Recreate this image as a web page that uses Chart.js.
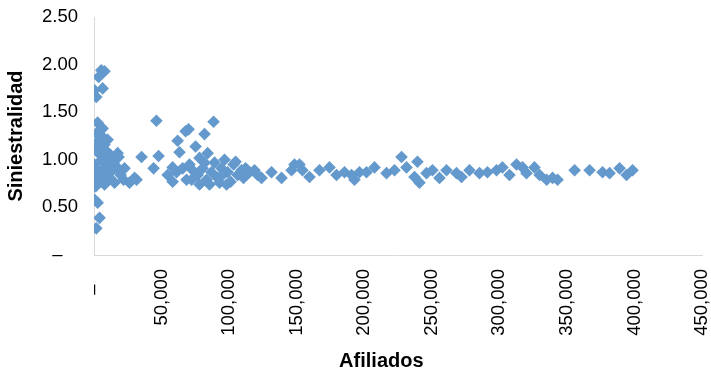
<!DOCTYPE html>
<html>
<head>
<meta charset="utf-8">
<script src="https://cdn.jsdelivr.net/npm/chart.js@4/dist/chart.umd.min.js"></script>
<style>
  html, body { margin: 0; padding: 0; background: #fff; }
  #c { display: block; }
</style>
</head>
<body>
<canvas id="c" width="711" height="373"></canvas>
<script>
// Afiliados (thousands) and siniestralidad per entity
const afiliadosMiles = [
  5.4, 7.8, 3.4, 0.4, 6.4, 1.7, 2.7, 6.4, 1.9, 4.1, 7.8, 2.7, 17.5, 0.4, 7.8, 15.2, 22.6, 30.0, 26.3, 15.2,
  0.4, 0.4, 2.7, 4.1, 1.7, 4.1, 7.1, 10.1, 13.0, 2.7, 6.4, 9.3, 13.8, 17.5, 19.7, 21.9, 11.5, 4.1, 1.2, 5.6,
  8.6, 12.3, 16.0, 18.2, 1.9, 5.0, 1.2, 7.8, 10.1,
  35.2, 46.2, 47.8, 44.1, 61.9, 63.3, 67.8, 70.0, 81.8, 88.5, 75.2, 84.1, 78.1, 58.2, 58.2, 68.5, 31.5, 54.5,
  61.1, 65.6, 73.0, 76.7, 80.4, 83.3, 87.0, 89.2, 91.5, 94.4, 96.6, 98.9, 101.1, 103.3, 106.3, 109.2, 112.2,
  115.1, 118.8, 121.1, 124.0, 72.2, 78.1, 85.5, 92.9, 98.1, 81.8, 95.1, 104.8, 110.7, 70.7,
  131.4, 138.8, 146.2, 148.4, 152.1, 154.3, 159.5, 166.9, 174.3, 179.5, 185.4, 190.6, 192.8, 196.5, 201.7,
  207.6, 216.5, 222.4, 227.6, 231.3, 237.2, 239.4, 240.9, 246.1, 250.5, 255.7, 260.9, 268.3, 272.0, 277.9,
  285.3, 291.2, 297.9, 302.3, 307.5, 312.7, 317.2, 320.1, 326.0, 329.8, 335.0, 339.4, 343.1, 355.7, 366.8,
  376.4, 381.6, 389.0, 394.2, 398.6
];
const siniestralidad = [
  1.94, 1.93, 1.87, 1.73, 1.75, 1.66, 1.39, 1.33, 1.28, 1.21, 1.16, 1.08, 1.07, 0.95, 0.92, 0.95, 0.91, 0.81, 0.76, 0.76,
  0.76, 0.58, 0.55, 0.39, 0.28, 1.10, 1.05, 1.00, 0.97, 0.89, 0.84, 0.87, 0.89, 0.91, 0.84, 0.79, 0.81, 0.79, 0.87, 1.00,
  1.10, 1.05, 1.00, 1.03, 1.16, 1.26, 0.72, 0.74, 1.21,
  1.03, 1.41, 1.04, 0.91, 1.20, 1.08, 1.30, 1.32, 1.27, 1.40, 1.14, 1.07, 1.02, 0.92, 0.77, 0.79, 0.79, 0.84,
  0.87, 0.91, 0.89, 0.84, 0.91, 0.79, 0.87, 0.97, 0.81, 0.91, 1.00, 0.87, 0.77, 0.95, 0.84, 0.89, 0.91,
  0.87, 0.89, 0.84, 0.81, 0.79, 0.74, 0.74, 0.76, 0.74, 0.97, 0.84, 0.98, 0.81, 0.95,
  0.87, 0.81, 0.89, 0.95, 0.95, 0.89, 0.82, 0.89, 0.92, 0.84, 0.87, 0.84, 0.79, 0.87, 0.87,
  0.92, 0.86, 0.89, 1.03, 0.92, 0.82, 0.98, 0.76, 0.86, 0.89, 0.81, 0.89, 0.86, 0.82, 0.89,
  0.86, 0.87, 0.89, 0.92, 0.84, 0.95, 0.92, 0.86, 0.92, 0.84, 0.79, 0.81, 0.79, 0.89, 0.89,
  0.87, 0.86, 0.91, 0.84, 0.89
];

// Axis ranges and tick steps
const xTicks = [0, 50000, 100000, 150000, 200000, 250000, 300000, 350000, 400000, 450000];
const yTicks = [0, 0.5, 1.0, 1.5, 2.0, 2.5];

const puntos = afiliadosMiles.map((a, i) => ({ x: a * 1000, y: siniestralidad[i] }));

const FONT = "'Liberation Sans', Arial, sans-serif";
const AXIS_GREY = '#d9d9d9';

new Chart(document.getElementById('c'), {
  type: 'scatter',
  data: {
    datasets: [{
      data: puntos,
      pointStyle: 'rectRot',
      pointRadius: 6.3,
      pointHoverRadius: 6.3,
      backgroundColor: '#6399cc',
      borderWidth: 0
    }]
  },
  options: {
    responsive: false,
    animation: false,
    events: [],
    layout: { padding: { top: 17, right: 0, left: 0, bottom: 0 } },
    plugins: { legend: { display: false }, tooltip: { enabled: false } },
    scales: {
      x: {
        type: 'linear',
        min: xTicks[0],
        max: xTicks[xTicks.length - 1],
        afterFit(scale) {
          scale.height = 118;
          scale.paddingLeft = 0;
          scale.paddingRight = 9;
        },
        afterBuildTicks(scale) { scale.ticks = xTicks.map(v => ({ value: v })); },
        grid: { display: false, drawTicks: false },
        border: { display: true, color: AXIS_GREY, width: 1 },
        ticks: {
          autoSkip: false,
          minRotation: 90,
          maxRotation: 90,
          padding: 14,
          color: '#000',
          font: { family: FONT, size: 18.5 },
          callback: v => v === 0 ? '\u2013   ' : v.toLocaleString('en-US')
        },
        title: {
          display: true,
          text: 'Afiliados      ',
          color: '#000',
          font: { family: FONT, size: 20, weight: 'bold' },
          padding: { top: 4, bottom: 0 }
        }
      },
      y: {
        type: 'linear',
        min: yTicks[0],
        max: yTicks[yTicks.length - 1],
        afterFit(scale) {
          scale.width = 94;
          scale.paddingTop = 0;
          scale.paddingBottom = 0;
        },
        afterBuildTicks(scale) { scale.ticks = yTicks.map(v => ({ value: v })); },
        grid: { display: false, drawTicks: false },
        border: { display: true, color: AXIS_GREY, width: 1 },
        ticks: {
          padding: 16,
          color: '#000',
          font: { family: FONT, size: 18.5 },
          callback: v => v === 0 ? '\u2013   ' : Number(v).toFixed(2)
        },
        title: {
          display: true,
          text: 'Siniestralidad',
          color: '#000',
          font: { family: FONT, size: 20, weight: 'bold' },
          padding: { top: 4, bottom: 4 }
        }
      }
    }
  }
});
</script>
</body>
</html>
